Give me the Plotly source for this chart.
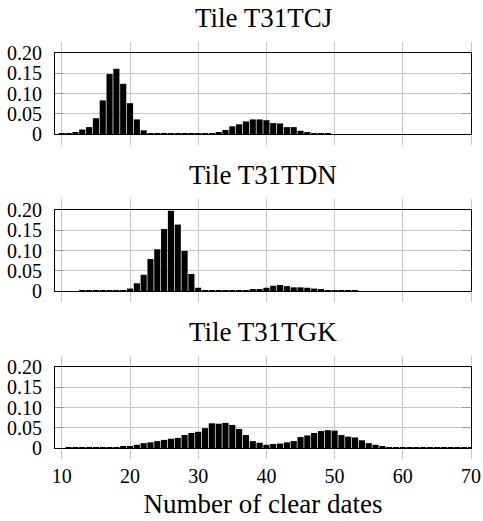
import plotly.graph_objects as go

clear_dates = list(range(10, 71))

t31tcj = [0.001, 0.001, 0.003, 0.011, 0.017, 0.039, 0.083, 0.148, 0.161, 0.124,
          0.076, 0.036, 0.009, 0.002, 0.001, 0.001, 0.001, 0.001, 0.001, 0.001,
          0.001, 0.0015, 0.002, 0.003, 0.010, 0.019, 0.024, 0.031, 0.036, 0.036,
          0.034, 0.027, 0.026, 0.017, 0.017, 0.008, 0.0025, 0.0015, 0.001, 0.001,
          0, 0, 0, 0, 0, 0, 0, 0, 0, 0,
          0, 0, 0, 0, 0, 0, 0, 0, 0, 0, 0]

t31tdn = [0, 0, 0, 0.001, 0.001, 0.001, 0.001, 0.001, 0.001, 0.001,
          0.006, 0.019, 0.040, 0.079, 0.103, 0.153, 0.198, 0.164, 0.099, 0.042,
          0.008, 0.0015, 0.001, 0.001, 0.001, 0.001, 0.0015, 0.0015, 0.0025, 0.004,
          0.008, 0.013, 0.015, 0.012, 0.009, 0.009, 0.008, 0.006, 0.003, 0.002,
          0.0015, 0.0015, 0.001, 0.001, 0, 0, 0, 0, 0, 0,
          0, 0, 0, 0, 0, 0, 0, 0, 0, 0, 0]

t31tgk = [0, 0.0005, 0.001, 0.001, 0.001, 0.001, 0.001, 0.001, 0.002, 0.0025,
          0.005, 0.008, 0.012, 0.014, 0.017, 0.020, 0.023, 0.025, 0.032, 0.037,
          0.040, 0.049, 0.061, 0.060, 0.062, 0.057, 0.047, 0.032, 0.017, 0.013,
          0.008, 0.010, 0.011, 0.014, 0.017, 0.027, 0.031, 0.037, 0.042, 0.044,
          0.043, 0.032, 0.028, 0.026, 0.019, 0.012, 0.008, 0.005, 0.002, 0.0015,
          0.001, 0.001, 0.001, 0.001, 0.001, 0.001, 0.001, 0.001, 0.001, 0.001, 0.001]

titles = ["Tile T31TCJ", "Tile T31TDN", "Tile T31TGK"]
series = [t31tcj, t31tdn, t31tgk]

y_tickvals = [0, 0.05, 0.10, 0.15, 0.20]
y_ticktext = ["0", "0.05", "0.10", "0.15", "0.20"]
x_tickvals = [10, 20, 30, 40, 50, 60, 70]

FONT = "Liberation Serif, Times New Roman, serif"
GRID = "#c8c8c8"

# pixel layout
W, H = 483, 521
L, R, T, B = 55, 12, 53, 73
plot_h = H - T - B
panels_px = [(53, 134), (210, 291), (367, 448)]

def py2paper(py):
    return (H - B - py) / plot_h

fig = go.Figure()
layout = dict(
    width=W, height=H,
    margin=dict(l=L, r=R, t=T, b=B, autoexpand=False),
    paper_bgcolor="white", plot_bgcolor="white",
    showlegend=False, bargap=0.1,
    font=dict(family=FONT, size=20, color="black"),
)

annotations = []
for i, (title, vals) in enumerate(zip(titles, series)):
    n = i + 1
    xa = "x" if n == 1 else f"x{n}"
    ya = "y" if n == 1 else f"y{n}"
    fig.add_trace(go.Bar(x=clear_dates, y=vals, xaxis=xa, yaxis=ya,
                         marker=dict(color="black", line=dict(width=0))))
    top, bot = panels_px[i]
    layout[f"xaxis{'' if n == 1 else n}"] = dict(
        domain=[0, 1], anchor=ya, range=[9, 70], automargin=False,
        tickvals=x_tickvals, showticklabels=(n == 3),
        ticks="outside", ticklen=10, tickcolor=GRID, tickwidth=1,
        showgrid=True, gridcolor=GRID, gridwidth=1,
        showline=True, linecolor="black", linewidth=1, mirror="ticks",
        zeroline=False, tickfont=dict(size=20),
    )
    layout[f"yaxis{'' if n == 1 else n}"] = dict(
        domain=[py2paper(bot), py2paper(top)], anchor=xa, range=[0, 0.2],
        automargin=False,
        tickvals=y_tickvals, ticktext=y_ticktext,
        ticks="inside", ticklen=9, tickcolor="#999999", tickwidth=1,
        showgrid=True, gridcolor=GRID, gridwidth=1,
        showline=True, linecolor="black", linewidth=1, mirror="ticks",
        zeroline=False, tickfont=dict(size=20), ticklabelstandoff=8,
    )
    annotations.append(dict(text=title, xref="paper", yref="paper",
                            x=0.5, y=py2paper(top - 35), xanchor="center",
                            yanchor="middle", showarrow=False,
                            font=dict(size=27, family=FONT)))

layout["xaxis3"]["title"] = dict(text="Number of clear dates",
                                 font=dict(size=27, family=FONT), standoff=8)
layout["annotations"] = annotations
fig.update_layout(**layout)
fig.write_html("out.html",
               config={"displayModeBar": False},
               post_script="document.body.style.margin='0';document.body.style.overflow='hidden';")
